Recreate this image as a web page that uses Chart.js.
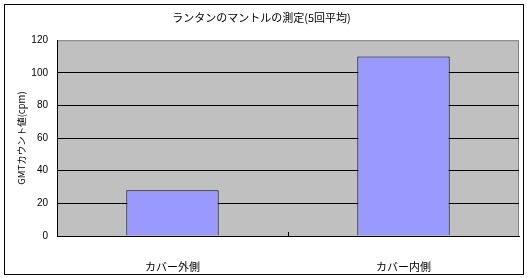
<!DOCTYPE html>
<html>
<head>
<meta charset="utf-8">
<script src="https://cdn.jsdelivr.net/npm/chart.js@4"></script>
<style>
  html, body { margin: 0; padding: 0; background: #fff; }
  #wrap { width: 531px; height: 278px; position: relative; }
</style>
</head>
<body>
<div id="wrap"><canvas id="chart"></canvas></div>
<script>
const categories = ['カバー外側', 'カバー内側'];
const counts = [28, 110];
const chartTitle = 'ランタンのマントルの測定(5回平均)';
const yTitle = 'GMTカウント値(cpm)';

const jpFont = '"Noto Sans CJK JP", "Noto Sans", sans-serif';

// frame, grey plot background and the little tick between categories
const framePlugin = {
  id: 'frame',
  beforeDraw(chart) {
    const { ctx, chartArea: a } = chart;
    ctx.save();
    ctx.fillStyle = '#fff';
    ctx.fillRect(0, 0, chart.width, chart.height);
    ctx.strokeStyle = '#000';
    ctx.lineWidth = 1;
    ctx.strokeRect(4.5, 4.5, 519, 270);
    ctx.fillStyle = '#c0c0c0';
    ctx.fillRect(a.left, a.top, a.right - a.left, a.bottom - a.top);
    ctx.strokeStyle = '#808080';
    ctx.beginPath();
    ctx.moveTo(a.left, a.top + 0.5);
    ctx.lineTo(a.right - 0.5, a.top + 0.5);
    ctx.lineTo(a.right - 0.5, a.bottom);
    ctx.stroke();
    ctx.restore();
  },
  afterDatasetsDraw(chart) {
    const { ctx, chartArea: a, scales: { x } } = chart;
    ctx.save();
    ctx.strokeStyle = '#000';
    ctx.lineWidth = 1;
    for (let i = 0; i < categories.length - 1; i++) {
      const px = Math.round((x.getPixelForTick(i) + x.getPixelForTick(i + 1)) / 2) + 0.5;
      ctx.beginPath();
      ctx.moveTo(px, a.bottom);
      ctx.lineTo(px, a.bottom - 4);
      ctx.stroke();
    }
    ctx.restore();
  }
};

new Chart(document.getElementById('chart'), {
  type: 'bar',
  data: {
    labels: categories,
    datasets: [{
      data: counts,
      backgroundColor: '#9999ff',
      borderColor: '#000',
      borderWidth: 1,
      categoryPercentage: 0.8,
      barPercentage: 0.5
    }]
  },
  options: {
    responsive: true,
    maintainAspectRatio: false,
    animation: false,
    layout: { padding: { left: 4, right: 12, top: 0, bottom: 0 } },
    plugins: {
      legend: { display: false },
      tooltip: { enabled: false },
      title: {
        display: true,
        text: chartTitle,
        color: '#000',
        font: { family: jpFont, size: 11, weight: 'normal', lineHeight: 1.2 },
        padding: { top: 11, bottom: 16 }
      }
    },
    scales: {
      x: {
        grid: { display: false },
        border: { color: '#000', width: 1 },
        ticks: {
          color: '#000',
          padding: 16,
          maxRotation: 0,
          font: { family: jpFont, size: 11 }
        },
        afterFit(scale) { scale.height = 42; }
      },
      y: {
        min: 0,
        max: 120,
        grid: {
          drawTicks: false,
          color: ctx => (ctx.tick && ctx.tick.value === 120) ? 'rgba(0,0,0,0)' : '#000',
          lineWidth: 1
        },
        border: { color: '#000', width: 1 },
        ticks: {
          stepSize: 20,
          color: '#000',
          padding: 9,
          font: { family: '"Liberation Sans", Arial, sans-serif', size: 10 }
        },
        title: {
          display: true,
          text: yTitle,
          color: '#000',
          font: { family: jpFont, size: 9.5, lineHeight: 1.2 },
          padding: { top: 12, bottom: 0 }
        },
        afterFit(scale) { scale.width = 53; }
      }
    }
  },
  plugins: [framePlugin]
});
</script>
</body>
</html>
